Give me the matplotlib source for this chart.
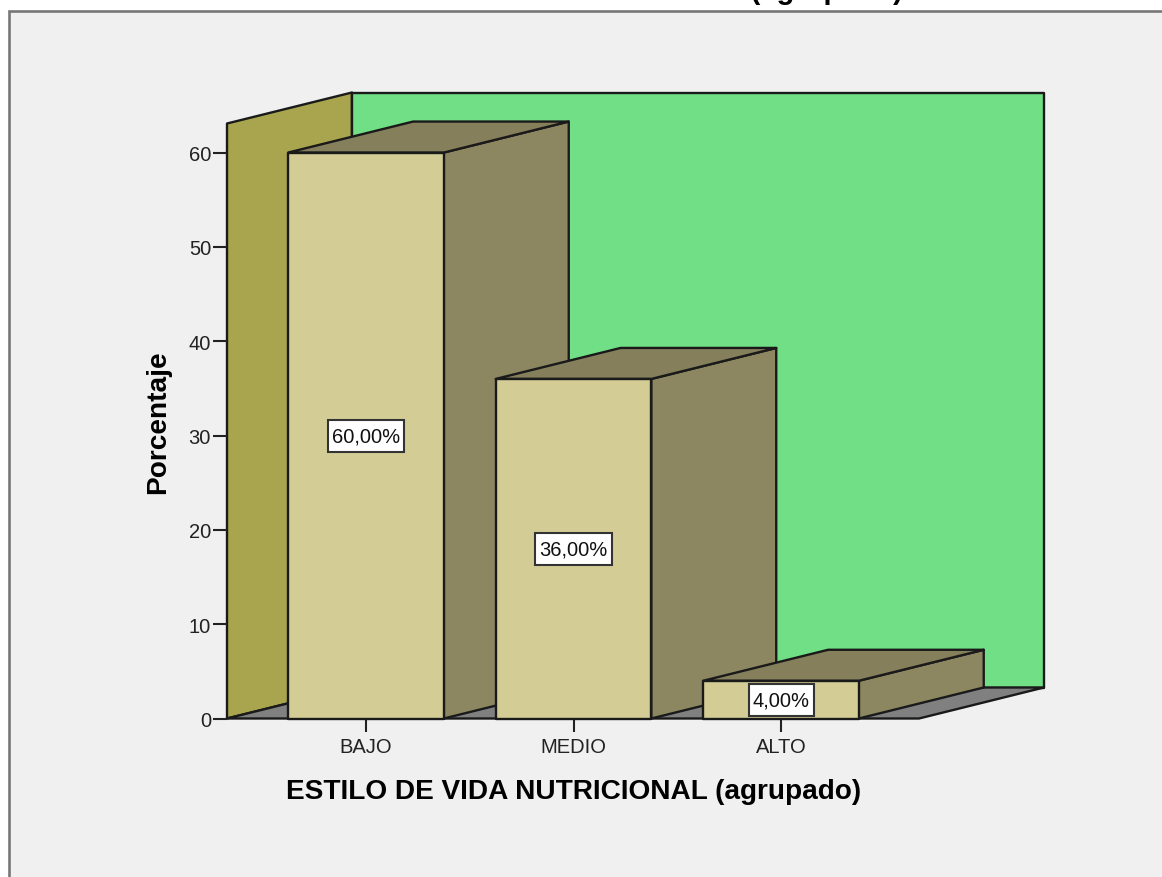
import matplotlib
matplotlib.use('Agg')
import matplotlib.pyplot as plt
from matplotlib.patches import Polygon, Rectangle
from matplotlib.transforms import IdentityTransform

categories = ['BAJO', 'MEDIO', 'ALTO']
percentages = [60, 36, 4]
value_labels = ['60,00%', '36,00%', '4,00%']
y_ticks = [0, 10, 20, 30, 40, 50, 60]
title_text = 'ESTILO DE VIDA NUTRICIONAL (agrupado)'

W, H = 1162, 878
plt.rcParams['font.family'] = ['Liberation Sans', 'DejaVu Sans']

fig = plt.figure(figsize=(W / 100, H / 100), dpi=100, facecolor='white')

# grey panel behind the chart, runs off the right and bottom edge
panel = Rectangle((9 / W, -0.05), 1.1, 1.05 - 12 / H, transform=fig.transFigure,
                  facecolor='#f0f0f0', edgecolor='#777777', linewidth=1.9, zorder=-1)
fig.add_artist(panel)

# title is cut by the top of the image, only the descenders show
fig.text(603 / W, 1 + 1 / H, title_text, fontsize=21, fontweight='bold',
         ha='center', va='baseline', color='black')

ax = fig.add_axes([227 / W, 1 - 719.5 / H, (919 - 227) / W, (719.5 - 124.5) / H])
ax.set_xlim(-0.67, 2.665)
ax.set_ylim(0, 63.08)
ax.patch.set_visible(False)
for s in ax.spines.values():
    s.set_visible(False)

depth_x = 0.602
depth_y = 3.286
x0, x1 = ax.get_xlim()
top = ax.get_ylim()[1]
edge = '#1a1a1a'
lw = 1.7


def face(pts, color, z):
    ax.add_patch(Polygon(pts, closed=True, facecolor=color, edgecolor=edge,
                         linewidth=lw, joinstyle='round', clip_on=False, zorder=z))


# walls and floor
face([(x0, 0), (x0 + depth_x, depth_y), (x0 + depth_x, top + depth_y), (x0, top)], '#a8a54e', 1)
face([(x0 + depth_x, depth_y), (x1 + depth_x, depth_y), (x1 + depth_x, top + depth_y),
      (x0 + depth_x, top + depth_y)], '#70df85', 1)
face([(x0, 0), (x1, 0), (x1 + depth_x, depth_y), (x0 + depth_x, depth_y)], '#808080', 1)

# bars, left to right so each front covers the side of the one before
bar_w = 0.75
renderer = fig.canvas.get_renderer()
for i, (cat, val, lab) in enumerate(zip(categories, percentages, value_labels)):
    l = i - bar_w / 2
    r = i + bar_w / 2
    z = 2 + i
    face([(r, 0), (r + depth_x, depth_y), (r + depth_x, val + depth_y), (r, val)], '#8c8760', z)
    face([(l, val), (r, val), (r + depth_x, val + depth_y), (l + depth_x, val + depth_y)], '#857f5c', z)
    face([(l, 0), (r, 0), (r, val), (l, val)], '#d3cd95', z)
    t = ax.text(i, val / 2, lab, fontsize=14.5, ha='center', va='center', color='#111111', zorder=11)
    # label box is taller than a text bbox pad would give
    bb = t.get_window_extent(renderer)
    yc = ax.transData.transform((i, val / 2))[1]
    ax.add_patch(Rectangle((bb.x0 - 4, yc - 16), bb.width + 8, 32, transform=IdentityTransform(),
                           facecolor='white', edgecolor='#333333', linewidth=1.5,
                           clip_on=False, zorder=10))

ax.set_xticks(range(len(categories)))
ax.set_xticklabels(categories)
ax.set_yticks(y_ticks)
ax.tick_params(axis='x', length=9.5, width=1.5, labelsize=14.5, pad=4, colors='#222222')
ax.tick_params(axis='y', length=10, width=1.5, labelsize=14.5, pad=1.5, colors='#222222')

fig.text(574 / W, 1 - 799 / H, title_text, fontsize=20.2, fontweight='bold',
         ha='center', va='baseline', color='black')
fig.text(158 / W, 1 - 422 / H, 'Porcentaje', fontsize=20.2, fontweight='bold',
         rotation=90, ha='center', va='center', color='black')

fig.savefig('out.png', dpi=100)
